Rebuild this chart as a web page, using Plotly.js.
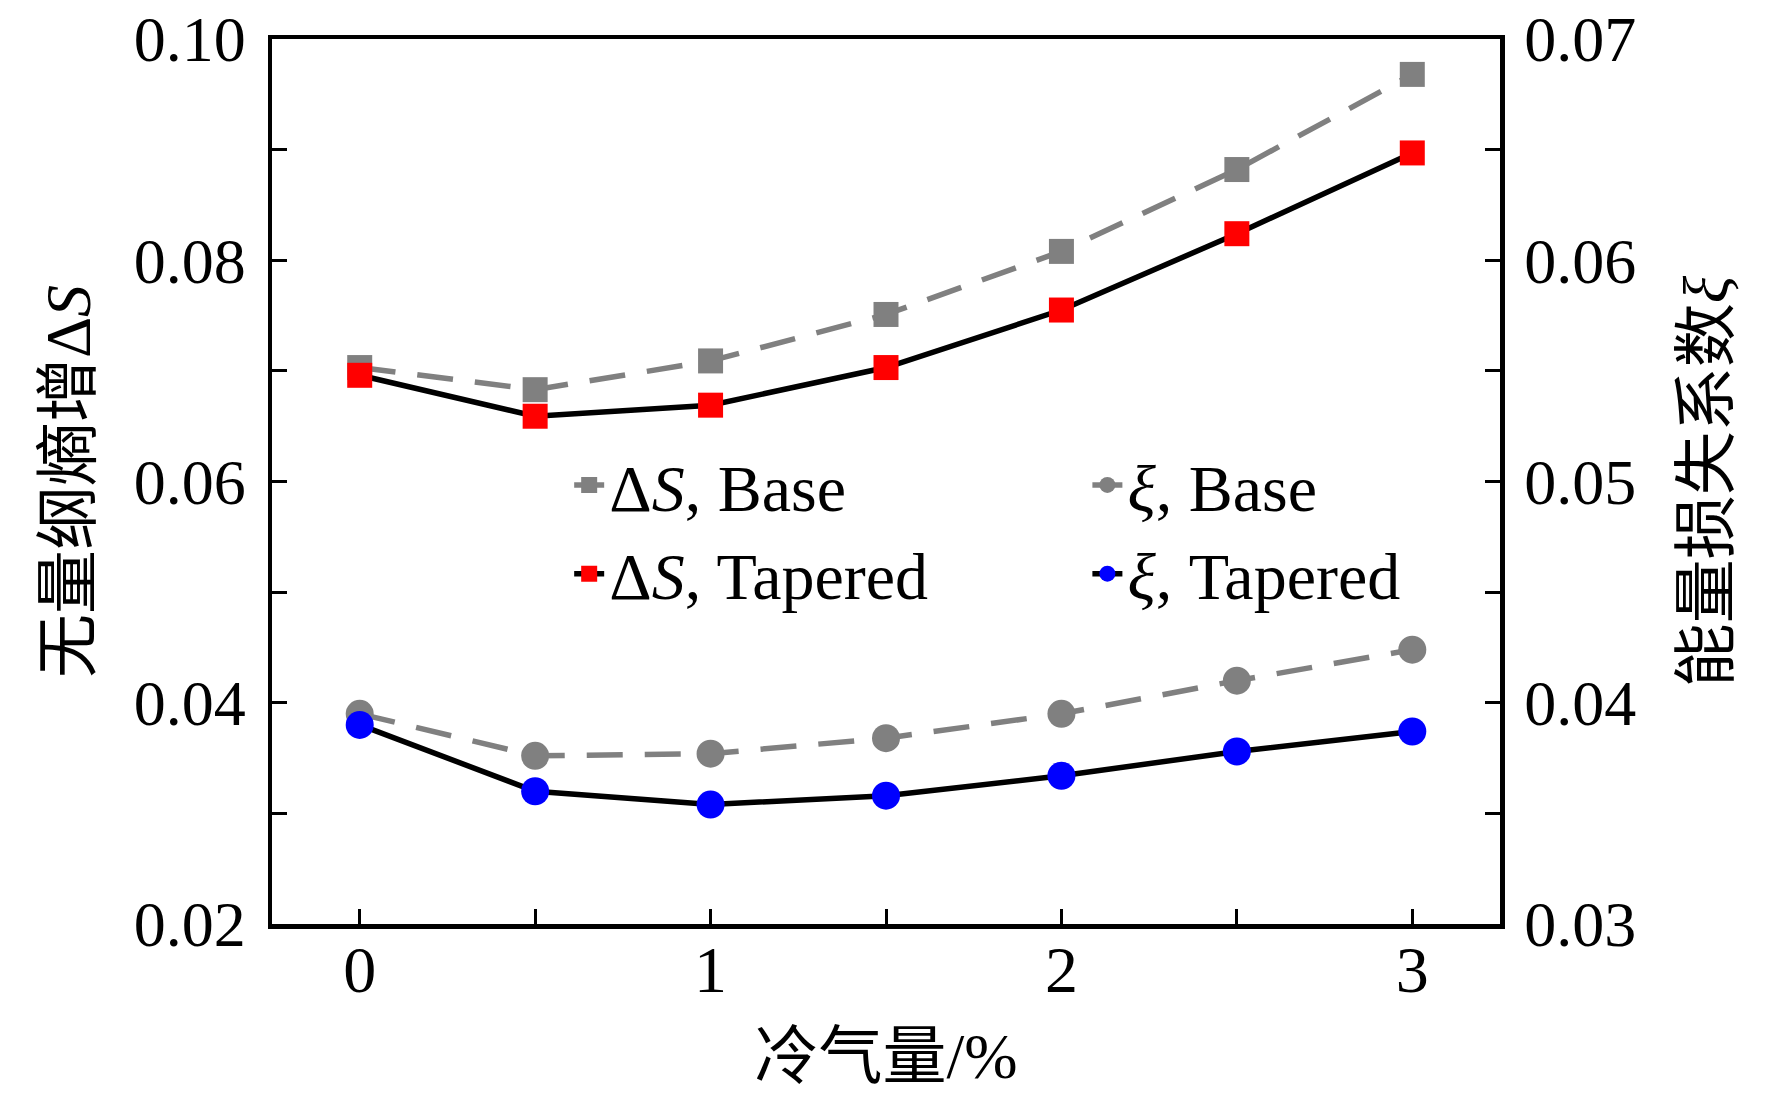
<!DOCTYPE html>
<html>
<head>
<meta charset="utf-8">
<script src="https://cdn.plot.ly/plotly-3.0.1.min.js"></script>
<style>html,body{margin:0;padding:0;background:#fff;}#chart{width:1772px;height:1102px;}</style>
</head>
<body>
<div id="chart"></div>
<script>
const coolingAir = [0, 0.5, 1, 1.5, 2, 2.5, 3];
const dS_base     = [0.0703, 0.0683, 0.0709, 0.0751, 0.0808, 0.0882, 0.0968];
const dS_tapered  = [0.0696, 0.0659, 0.0669, 0.0703, 0.0755, 0.0824, 0.0897];
const xi_base     = [0.0395, 0.0376, 0.0377, 0.0384, 0.0395, 0.0410, 0.0424];
const xi_tapered  = [0.0390, 0.0360, 0.0354, 0.0358, 0.0367, 0.0378, 0.0387];
const xTickVals = [0, 1, 2, 3];
const xTickText = ['0', '1', '2', '3'];
const yLeftTicks = [0.02, 0.04, 0.06, 0.08, 0.10];
const yLeftText = ['0.02', '0.04', '0.06', '0.08', '0.10'];
const yRightTicks = [0.03, 0.04, 0.05, 0.06, 0.07];
const yRightText = ['0.03', '0.04', '0.05', '0.06', '0.07'];

const FONT = 'Liberation Serif, Times New Roman, Noto Sans CJK SC, serif';
const CJK = 'Liberation Serif, Noto Sans CJK SC, serif';
const GRAY = '#808080';
const DASH = '36px,22px';

const traces = [
  {x: coolingAir, y: dS_base, name: 'Δ<i>S</i>, Base', type: 'scatter', mode: 'lines+markers',
   line: {color: GRAY, width: 5.5, dash: DASH}, marker: {symbol: 'square', size: 25, color: GRAY},
   legend: 'legend'},
  {x: coolingAir, y: dS_tapered, name: 'Δ<i>S</i>, Tapered', type: 'scatter', mode: 'lines+markers',
   line: {color: '#000000', width: 5.5}, marker: {symbol: 'square', size: 25, color: '#ff0000'},
   legend: 'legend'},
  {x: coolingAir, y: xi_base, name: '<i>ξ</i>, Base', type: 'scatter', mode: 'lines+markers', yaxis: 'y2',
   line: {color: GRAY, width: 5.5, dash: DASH}, marker: {symbol: 'circle', size: 28, color: GRAY},
   legend: 'legend2'},
  {x: coolingAir, y: xi_tapered, name: '<i>ξ</i>, Tapered', type: 'scatter', mode: 'lines+markers', yaxis: 'y2',
   line: {color: '#000000', width: 5.5}, marker: {symbol: 'circle', size: 28, color: '#0000ff'},
   legend: 'legend2'}
];

const tickStyle = {ticks: 'inside', ticklen: 15, tickwidth: 3, tickcolor: '#000'};

const layout = {
  width: 1772, height: 1102,
  margin: {l: 272, r: 272, t: 39, b: 178},
  paper_bgcolor: '#ffffff', plot_bgcolor: '#ffffff',
  font: {family: FONT, size: 66, color: '#000'},
  showlegend: true,
  xaxis: Object.assign({
    range: [-0.25, 3.25], tickmode: 'array', tickvals: xTickVals, ticktext: xTickText,
    minor: Object.assign({dtick: 0.5, tick0: 0}, tickStyle),
    showline: true, linewidth: 4.5, linecolor: '#000', mirror: true,
    showgrid: false, zeroline: false,
    tickfont: {family: FONT, size: 66}, ticklabelstandoff: -16, ticklabeloverflow: 'allow',
    title: {text: '冷气量/%', font: {family: CJK, size: 64}, standoff: 30},
    automargin: false
  }, tickStyle),
  yaxis: Object.assign({
    range: [0.02, 0.10], tickmode: 'array', tickvals: yLeftTicks, ticktext: yLeftText,
    minor: Object.assign({dtick: 0.01, tick0: 0.02}, tickStyle),
    showline: true, linewidth: 4.5, linecolor: '#000',
    showgrid: false, zeroline: false,
    tickfont: {family: FONT, size: 64}, ticklabelstandoff: 9, ticklabeloverflow: 'allow',
    title: {text: '无量纲熵增Δ<i>S</i>', font: {family: CJK, size: 64}, standoff: 24},
    automargin: false
  }, tickStyle),
  yaxis2: Object.assign({
    overlaying: 'y', side: 'right',
    range: [0.03, 0.07], tickmode: 'array', tickvals: yRightTicks, ticktext: yRightText,
    minor: Object.assign({dtick: 0.005, tick0: 0.03}, tickStyle),
    showline: true, linewidth: 4.5, linecolor: '#000',
    showgrid: false, zeroline: false,
    tickfont: {family: FONT, size: 64}, ticklabelstandoff: 7, ticklabeloverflow: 'allow',
    title: {text: '能量损失系数<i>ξ</i>', font: {family: CJK, size: 64}, standoff: 49},
    automargin: false
  }, tickStyle),
  legend: {
    x: 0.242, y: 0.552, xanchor: 'left', yanchor: 'top',
    bgcolor: 'rgba(0,0,0,0)', borderwidth: 0,
    font: {family: FONT, size: 66}, tracegroupgap: 0
  },
  legend2: {
    x: 0.664, y: 0.552, xanchor: 'left', yanchor: 'top',
    bgcolor: 'rgba(0,0,0,0)', borderwidth: 0,
    font: {family: FONT, size: 66}, tracegroupgap: 0
  }
};

Plotly.newPlot('chart', traces, layout, {staticPlot: true, displayModeBar: false});
</script>
</body>
</html>
